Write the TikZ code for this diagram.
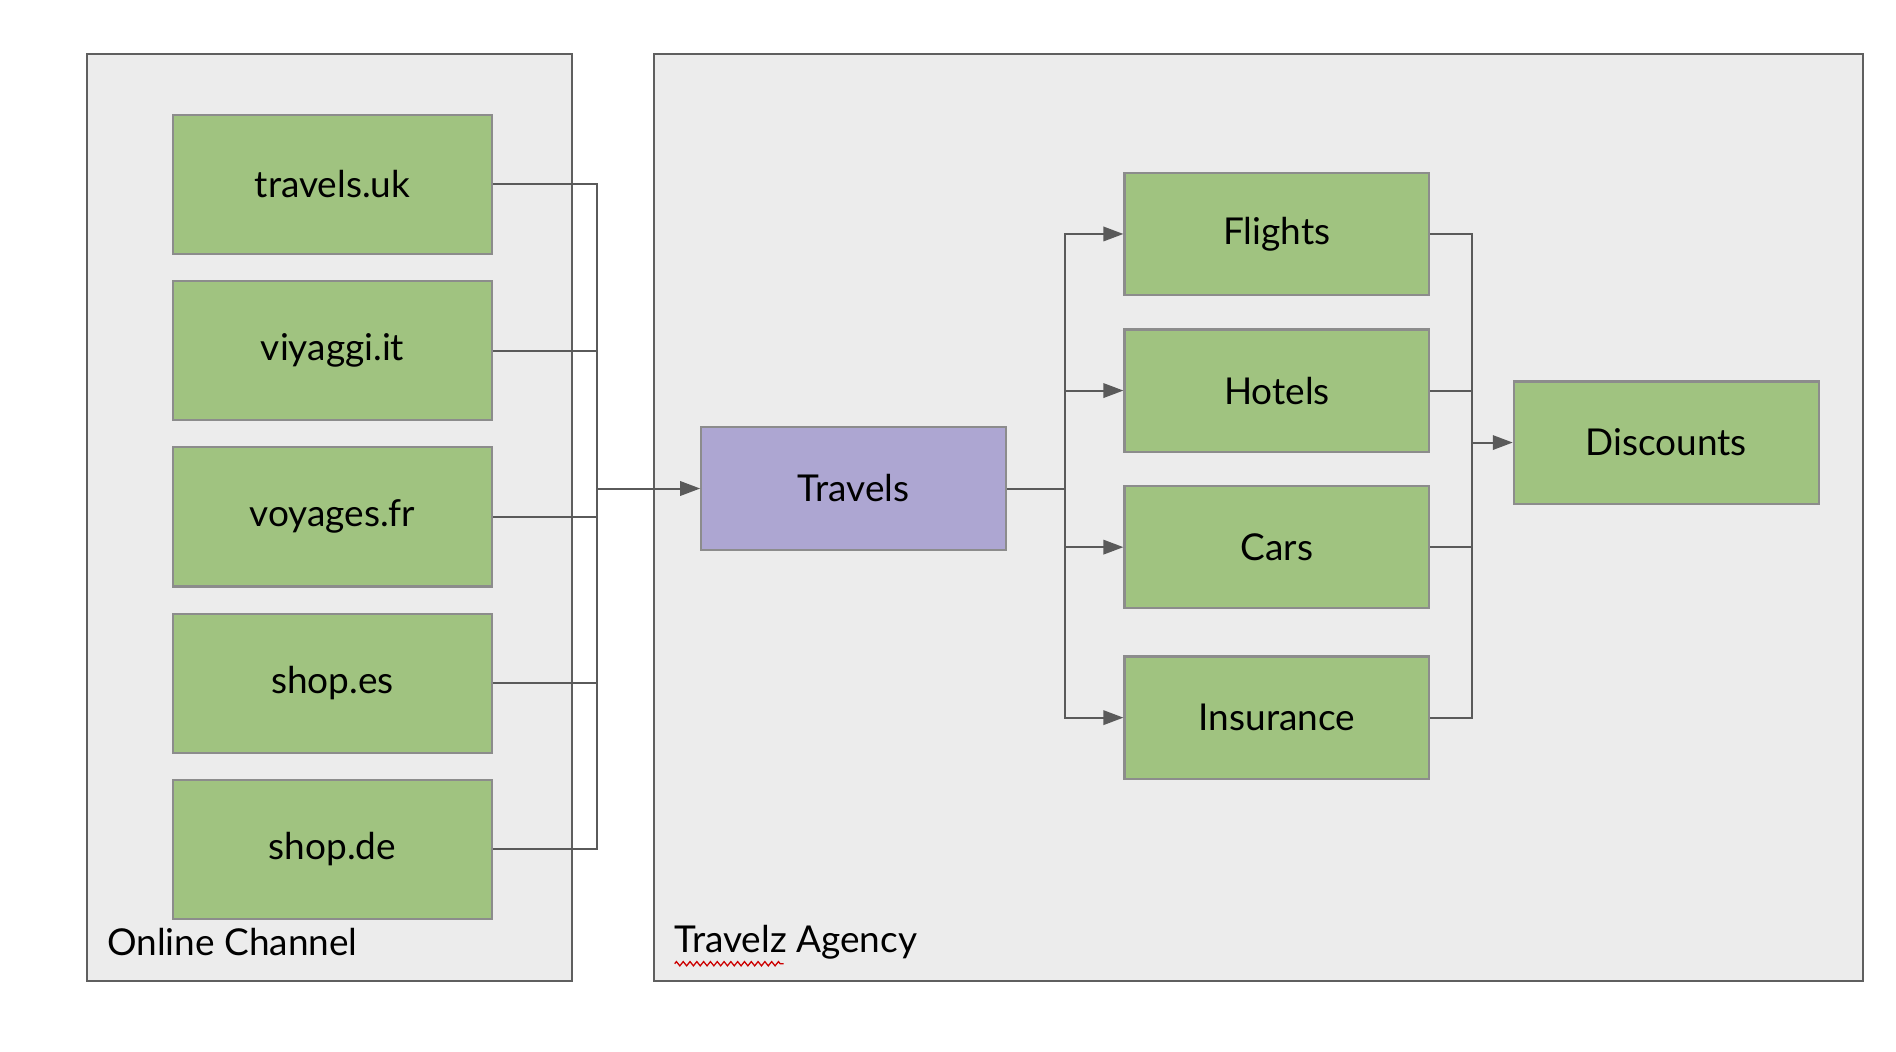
\documentclass[tikz,border=0pt]{standalone}
\usepackage{fontspec}
\setmainfont{Lato}
\usetikzlibrary{arrows.meta,decorations.pathmorphing}

\definecolor{panelgray}{HTML}{ECECEC}
\definecolor{panelline}{HTML}{5F5F5F}
\definecolor{boxgreen}{HTML}{A0C380}
\definecolor{boxpurple}{HTML}{ADA6D2}
\definecolor{boxline}{HTML}{8C8C8C}
\definecolor{linkgray}{HTML}{5A5A5A}

\tikzset{
  panel/.style={fill=panelgray, draw=panelline, line width=0.5pt},
  service/.style={draw=boxline, fill=boxgreen, line width=0.5pt,
    minimum width=2.52cm, minimum height=1.01cm, inner sep=0pt},
  site/.style={service, minimum width=2.64cm, minimum height=1.15cm},
  hub/.style={service, fill=boxpurple, minimum height=1.02cm},
  link/.style={draw=linkgray, line width=0.47pt},
  flow/.style={link, -{Triangle[length=4.7pt, width=3.4pt]}},
  caption/.style={anchor=west, inner sep=0pt}
}

\begin{document}
\begin{tikzpicture}[x=0.01cm, y=-0.01cm, font=\fontsize{8.7}{10}\selectfont]
    \useasboundingbox (0,0) rectangle (1568,870);

    % the two panels
    \draw[panel] (72,45) rectangle (473,811);
    \draw[panel] (541,45) rectangle (1541,811);
    \node[caption] (online) at (88,779) {Online Channel};
    \node[caption] (agency) at (557,779) {Travelz Agency};
    \draw[red!80!black, line width=0.3pt, decorate,
      decoration={zigzag, amplitude=0.5pt, segment length=1.6pt}]
      (558,797) -- (648,797);

    % sites
    \foreach \name/\txt [count=\i] in {uk/travels.uk, it/viyaggi.it, fr/voyages.fr, es/shop.es, de/shop.de}
      \node[site] (\name) at (275,{15+137.5*\i}) {\txt};

    % services
    \node[hub] (travels) at (706,404) {Travels};
    \node[service] (flights) at (1056,193.5) {Flights};
    \node[service] (hotels) at (1056,323) {Hotels};
    \node[service] (cars) at (1056,452.5) {Cars};
    \node[service] (insurance) at (1056,593.5) {Insurance};
    \node[service] (discounts) at (1378,366) {Discounts};

    \coordinate (sitebus) at (494,404);
    \coordinate (fork) at (881,404);
    \coordinate (join) at (1217,366);

    % connectors
    \foreach \name in {uk,it,fr,es,de}
      \draw[link] (\name.east) -| (sitebus);
    \draw[flow] (sitebus) -- (travels.west);
    \draw[link] (travels.east) -- (fork);
    \foreach \name in {flights,hotels,cars,insurance}
      \draw[flow] (fork) |- (\name.west);
    \foreach \name in {flights,hotels,cars,insurance}
      \draw[link] (\name.east) -| (join);
    \draw[flow] (join) -- (discounts.west);
\end{tikzpicture}
\end{document}
